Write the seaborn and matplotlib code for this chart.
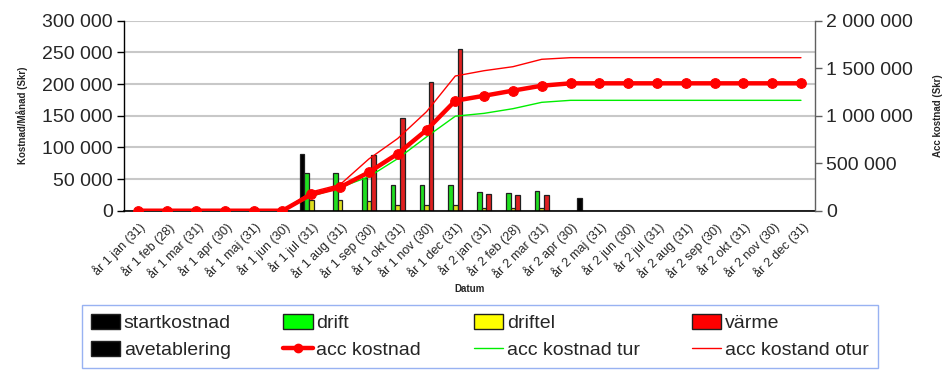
import numpy as np
import pandas as pd
import matplotlib
matplotlib.use("Agg")
import matplotlib.pyplot as plt
import seaborn as sns
from matplotlib.patches import Patch
from matplotlib.lines import Line2D
from matplotlib.ticker import FuncFormatter, FixedLocator

# Månader (kategorier)
months = ["år 1 jan (31)", "år 1 feb (28)", "år 1 mar (31)", "år 1 apr (30)",
          "år 1 maj (31)", "år 1 jun (30)", "år 1 jul (31)", "år 1 aug (31)",
          "år 1 sep (30)", "år 1 okt (31)", "år 1 nov (30)", "år 1 dec (31)",
          "år 2 jan (31)", "år 2 feb (28)", "år 2 mar (31)", "år 2 apr (30)",
          "år 2 maj (31)", "år 2 jun (30)", "år 2 jul (31)", "år 2 aug (31)",
          "år 2 sep (30)", "år 2 okt (31)", "år 2 nov (30)", "år 2 dec (31)"]

# Kostnad per månad (Skr)
startkostnad = [0, 0, 0, 0, 0, 0, 90000, 0, 0, 0, 0, 0,
                0, 0, 0, 0, 0, 0, 0, 0, 0, 0, 0, 0]
drift = [0, 0, 0, 0, 0, 0, 60000, 60000, 52000, 41000, 40000, 41000,
         30000, 27500, 30500, 0, 0, 0, 0, 0, 0, 0, 0, 0]
driftel = [0, 0, 0, 0, 0, 0, 17000, 17000, 16000, 9000, 9000, 9000,
           3800, 3500, 3500, 0, 0, 0, 0, 0, 0, 0, 0, 0]
varme = [0, 0, 0, 0, 0, 0, 0, 0, 88000, 146000, 204000, 255000,
         27000, 25000, 24500, 0, 0, 0, 0, 0, 0, 0, 0, 0]
avetablering = [0, 0, 0, 0, 0, 0, 0, 0, 0, 0, 0, 0,
                0, 0, 0, 20000, 0, 0, 0, 0, 0, 0, 0, 0]

# Ackumulerad kostnad (Skr)
acc_kostnad = [0, 0, 0, 0, 0, 0, 172000, 247000, 405000, 600000, 849000, 1158000,
               1210000, 1264000, 1316000, 1341000, 1341000, 1341000, 1341000, 1341000,
               1341000, 1341000, 1341000, 1341000]
acc_tur = [0, 0, 0, 0, 0, 0, 150000, 245000, 358000, 548000, 777000, 995000,
           1025000, 1074000, 1141000, 1162000, 1162000, 1162000, 1162000, 1162000,
           1162000, 1162000, 1162000, 1162000]
acc_otur = [0, 0, 0, 0, 0, 0, 198000, 275000, 545000, 760000, 1042000, 1418000,
            1474000, 1516000, 1594000, 1611000, 1611000, 1611000, 1611000, 1611000,
            1611000, 1611000, 1611000, 1611000]

bar_series = {"startkostnad": startkostnad, "drift": drift, "driftel": driftel,
              "värme": varme, "avetablering": avetablering}
bar_colors = {"startkostnad": "#000000", "drift": "#00FF00", "driftel": "#FFFF00",
              "värme": "#FF0000", "avetablering": "#000000"}

rows = []
for name, vals in bar_series.items():
    for m, v in zip(months, vals):
        if v > 0:
            rows.append({"month": m, "serie": name, "value": v})
bars = pd.DataFrame(rows)

lines = pd.DataFrame({"pos": range(len(months)), "acc": acc_kostnad,
                      "tur": acc_tur, "otur": acc_otur})

sns.set_theme(style="white")
plt.rcParams["font.family"] = ["Liberation Sans", "DejaVu Sans"]

fig = plt.figure(figsize=(9.47, 3.70), dpi=100)
ax = fig.add_axes([0.131, 0.4305, 0.730, 0.5135])

sns.barplot(data=bars, x="month", y="value", hue="serie", order=months,
            hue_order=list(bar_series), palette=bar_colors, width=0.8,
            edgecolor="#202020", linewidth=0.9, legend=False, ax=ax)

ax.set_ylim(0, 300000)
ax.set_xlim(-0.5, len(months) - 0.5)
ax.set_yticks(np.arange(0, 300001, 50000))
fmt = FuncFormatter(lambda v, p: f"{v:,.0f}".replace(",", " "))
ax.yaxis.set_major_formatter(fmt)
ax.yaxis.grid(True, color="#c8c8c8", linewidth=1.5)
ax.set_axisbelow(True)

ax.set_xticks(range(len(months)))
ax.set_xticklabels(months, rotation=45, ha="right", rotation_mode="anchor", fontsize=9)
ax.tick_params(axis="x", which="major", length=0, pad=7)
ax.xaxis.set_minor_locator(FixedLocator(np.arange(-0.5, len(months), 1)))
ax.tick_params(axis="x", which="minor", length=4, width=1, color="black", direction="out")
ax.tick_params(axis="y", labelsize=14, length=5, width=1, color="black", direction="out",
               left=True, pad=3)
ax.set_xlabel("Datum", fontsize=7, fontweight="bold", labelpad=2)
ax.set_ylabel("Kostnad/Månad (Skr)", fontsize=7, fontweight="bold", labelpad=10)
for s in ["top", "right"]:
    ax.spines[s].set_visible(False)
ax.spines["left"].set_color("black")
ax.spines["bottom"].set_color("black")
ax.spines["left"].set_linewidth(1)
ax.spines["bottom"].set_linewidth(1.2)

ax2 = ax.twinx()
sns.lineplot(data=lines, x="pos", y="otur", color="#FF0000", linewidth=1.0, ax=ax2)
sns.lineplot(data=lines, x="pos", y="tur", color="#00EE00", linewidth=1.0, ax=ax2)
sns.lineplot(data=lines, x="pos", y="acc", color="#FF0000", linewidth=3.2, marker="o",
             markersize=7, markeredgecolor="#FF0000", ax=ax2)
ax2.set_ylim(0, 2000000)
ax2.set_xlim(-0.5, len(months) - 0.5)
ax2.set_yticks(np.arange(0, 2000001, 500000))
ax2.yaxis.set_major_formatter(fmt)
ax2.tick_params(axis="y", labelsize=14, length=5, width=1, color="#606060",
                direction="out", right=True, pad=3)
ax2.set_ylabel("Acc kostnad (Skr)", fontsize=7, fontweight="bold", labelpad=14)
ax2.set_xlabel("")
for s in ["top", "left", "bottom"]:
    ax2.spines[s].set_visible(False)
ax2.spines["right"].set_color("#606060")
ax2.spines["right"].set_linewidth(1)

handles = [
    Patch(facecolor="#000000", edgecolor="#202020", label="startkostnad"),
    Patch(facecolor="#000000", edgecolor="#202020", label="avetablering"),
    Patch(facecolor="#00FF00", edgecolor="#202020", label="drift"),
    Line2D([], [], color="#FF0000", linewidth=3.2, marker="o", markersize=6,
           label="acc kostnad"),
    Patch(facecolor="#FFFF00", edgecolor="#202020", label="driftel"),
    Line2D([], [], color="#00EE00", linewidth=1.0, label="acc kostnad tur"),
    Patch(facecolor="#FF0000", edgecolor="#202020", label="värme"),
    Line2D([], [], color="#FF0000", linewidth=1.0, label="acc kostand otur"),
]
leg = fig.legend(handles=handles, loc="lower left", ncol=4, mode="expand",
                 bbox_to_anchor=(0.0866, 0.006, 0.8405, 0.162),
                 bbox_transform=fig.transFigure, fontsize=14, frameon=True,
                 fancybox=False, borderaxespad=0, handlelength=1.5, handleheight=0.8,
                 handletextpad=0.2, columnspacing=1.0, labelspacing=0.45,
                 borderpad=0.45)
leg.get_frame().set_edgecolor("#7f9fef")
leg.get_frame().set_linewidth(1.0)

fig.savefig("out.png", dpi=100)
